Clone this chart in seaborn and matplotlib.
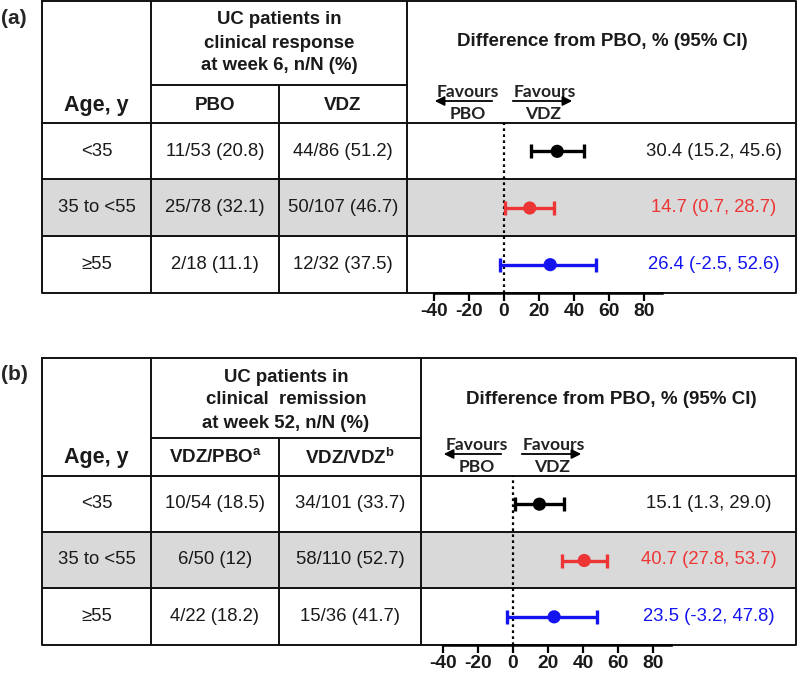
import matplotlib
matplotlib.use("Agg")
import matplotlib.pyplot as plt
import seaborn as sns
import pandas as pd

# ---------------- data ----------------
age_groups = ["<35", "35 to <55", "\u226555"]
row_colors = ["#000000", "#EE3535", "#1414F0"]

a_title = ["UC patients in", "clinical response", "at week 6, n/N (%)"]
a_cols = ["PBO", "VDZ"]
a_pbo = ["11/53 (20.8)", "25/78 (32.1)", "2/18 (11.1)"]
a_vdz = ["44/86 (51.2)", "50/107 (46.7)", "12/32 (37.5)"]
a_diff = [30.4, 14.7, 26.4]
a_lo = [15.2, 0.7, -2.5]
a_hi = [45.6, 28.7, 52.6]

b_title = ["UC patients in", "clinical  remission", "at week 52, n/N (%)"]
b_cols = ["VDZ/PBO$^{\\mathregular{a}}$", "VDZ/VDZ$^{\\mathregular{b}}$"]
b_pbo = ["10/54 (18.5)", "6/50 (12)", "4/22 (18.2)"]
b_vdz = ["34/101 (33.7)", "58/110 (52.7)", "15/36 (41.7)"]
b_diff = [15.1, 40.7, 23.5]
b_lo = [1.3, 27.8, -3.2]
b_hi = [29.0, 53.7, 47.8]

xticks = [-40, -20, 0, 20, 40, 60, 80]
diff_header = "Difference from PBO, % (95% CI)"

# ---------------- style ----------------
sns.set_theme(style="white")
plt.rcParams["font.family"] = ["Liberation Sans", "DejaVu Sans"]
plt.rcParams["axes.unicode_minus"] = False
plt.rcParams["mathtext.fontset"] = "custom"
plt.rcParams["mathtext.rm"] = "Liberation Sans"

W, H = 797, 675
fig = plt.figure(figsize=(W / 100, H / 100), dpi=100)
bg = fig.add_axes([0, 0, 1, 1])
bg.set_xlim(0, W)
bg.set_ylim(H, 0)
bg.axis("off")

TXT = "#1a1a1a"
LW = 1.4
GRAY = "#D9D9D9"


def panel(label, top, mid_line, hdr_bot, r1, r2, bot, col1, col2, col3, right,
          zero_px, title, cols, pbo, vdz, diff, lo, hi, val_cx):
    # shading for middle row
    bg.add_patch(plt.Rectangle((42, r1), right - 42, r2 - r1, color=GRAY, zorder=0, lw=0))
    # borders
    bg.plot([42, right, right, 42, 42], [top, top, bot, bot, top], color="#111111", lw=LW, zorder=1)
    bg.plot([col1, col1], [top, bot], color="#111111", lw=LW, zorder=1)
    bg.plot([col3, col3], [top, bot], color="#111111", lw=LW, zorder=1)
    bg.plot([col2, col2], [mid_line, bot], color="#111111", lw=LW, zorder=1)
    bg.plot([col1, col3], [mid_line, mid_line], color="#111111", lw=LW, zorder=1)
    for yy in (hdr_bot, r1, r2):
        bg.plot([42, right], [yy, yy], color="#111111", lw=LW, zorder=1)

    # panel label
    bg.text(14, top + 17, label, ha="center", va="center", fontsize=15, fontweight="bold")

    # header texts
    tcx = (col1 + col3) / 2
    for i, t in enumerate(title):
        bg.text(tcx, top + 19 + i * 23, t, ha="center", va="center", fontsize=13.4,
                fontweight="bold", color=TXT)
    hy = (mid_line + hdr_bot) / 2 + 1
    bg.text((42 + col1) / 2, hy, "Age, y", ha="center", va="center", fontsize=15.5,
            fontweight="bold", color=TXT)
    bg.text((col1 + col2) / 2, hy, cols[0], ha="center", va="center", fontsize=13.5,
            fontweight="bold", color=TXT)
    bg.text((col2 + col3) / 2, hy, cols[1], ha="center", va="center", fontsize=13.5,
            fontweight="bold", color=TXT)
    bg.text(zero_px + 98, top + 41, diff_header, ha="center", va="center", fontsize=13.5,
            fontweight="bold", color=TXT)

    # favours labels
    fy = hdr_bot - 31
    ay = hdr_bot - 22
    py = hdr_bot - 9
    ffam = ["Lato", "DejaVu Sans"]
    bg.text(zero_px - 36, fy, "Favours", ha="center", va="center", fontsize=12.6,
            fontweight="bold", family=ffam, color="#222222")
    bg.text(zero_px - 36, py, "PBO", ha="center", va="center", fontsize=12.6,
            fontweight="bold", family=ffam, color="#222222")
    bg.text(zero_px + 41, fy, "Favours", ha="center", va="center", fontsize=12.6,
            fontweight="bold", family=ffam, color="#222222")
    bg.text(zero_px + 39, py, "VDZ", ha="center", va="center", fontsize=12.6,
            fontweight="bold", family=ffam, color="#222222")
    bg.annotate("", xy=(zero_px - 72, ay), xytext=(zero_px - 9, ay),
                arrowprops=dict(arrowstyle="-|>", lw=1.3, color="black", mutation_scale=14))
    bg.annotate("", xy=(zero_px + 71, ay), xytext=(zero_px + 6, ay),
                arrowprops=dict(arrowstyle="-|>", lw=1.3, color="black", mutation_scale=14))

    # row texts
    centers = [(hdr_bot + r1) / 2, (r1 + r2) / 2, (r2 + bot) / 2]
    for i in range(3):
        cy = centers[i]
        bg.text((42 + col1) / 2, cy, age_groups[i], ha="center", va="center", fontsize=13.3, color=TXT)
        bg.text((col1 + col2) / 2, cy, pbo[i], ha="center", va="center", fontsize=13.3, color=TXT)
        bg.text((col2 + col3) / 2, cy, vdz[i], ha="center", va="center", fontsize=13.3, color=TXT)
        c = TXT if i == 0 else row_colors[i]
        bg.text(val_cx, cy, f"{diff[i]:.1f} ({lo[i]:.1f}, {hi[i]:.1f})", ha="center",
                va="center", fontsize=13.3, color=c)

    # forest axes
    scale = 1.75
    ax = fig.add_axes([col3 / W, 1 - bot / H, (right - col3) / W, (bot - hdr_bot) / H])
    ax.set_facecolor("none")
    ax.set_xlim((col3 - zero_px) / scale, (right - zero_px) / scale)
    ax.set_ylim(2.5, -0.5)
    df = pd.DataFrame({"row": [0, 1, 2], "diff": diff, "lo": lo, "hi": hi,
                       "grp": age_groups})
    ax.axvline(0, color="black", ls=(0, (1.2, 1.5)), lw=1.6, zorder=1)
    for i in range(3):
        ax.errorbar(df["diff"][i], df["row"][i],
                    xerr=[[df["diff"][i] - df["lo"][i]], [df["hi"][i] - df["diff"][i]]],
                    fmt="none", ecolor=row_colors[i], elinewidth=2.4, capsize=4.8,
                    capthick=2.4, zorder=2)
    sns.scatterplot(data=df, x="diff", y="row", hue="grp", palette=row_colors,
                    s=90, edgecolor="none", legend=False, ax=ax, zorder=3)
    ax.set_xlabel("")
    ax.set_ylabel("")
    ax.set_yticks([])
    ax.set_xticks(xticks)
    ax.set_xticklabels([str(t) for t in xticks], fontsize=13.8, fontweight="bold", color=TXT)
    for s in ("top", "right", "left"):
        ax.spines[s].set_visible(False)
    ax.spines["bottom"].set_bounds(-40, 90)
    ax.spines["bottom"].set_linewidth(1.8)
    ax.spines["bottom"].set_color("black")
    ax.tick_params(axis="x", length=6, width=1.6, pad=1, bottom=True, color="black")
    ax.grid(False)


panel("(a)", 1, 85, 123, 179, 236, 293, 151, 279, 407, 796, 504,
      a_title, a_cols, a_pbo, a_vdz, a_diff, a_lo, a_hi, 714)
panel("(b)", 358, 438, 476, 532, 588, 645, 151, 279, 421, 796, 513,
      b_title, b_cols, b_pbo, b_vdz, b_diff, b_lo, b_hi, 709)

fig.savefig("out.png", dpi=100)
